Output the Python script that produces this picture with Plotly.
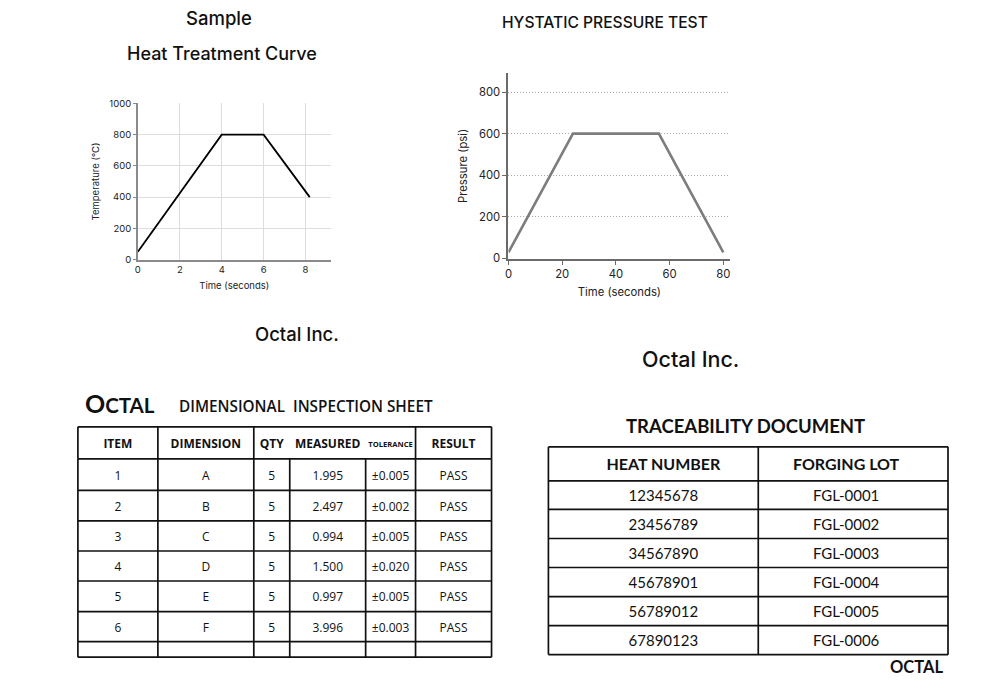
import plotly.graph_objects as go

# ---------------- data ----------------
heat_time = [0, 4, 6, 8.2]
heat_temp = [50, 800, 800, 400]

press_time = [0, 24, 56, 80]
press_psi = [30, 600, 600, 30]

insp_header = ["ITEM", "DIMENSION", "QTY", "MEASURED", "TOLERANCE", "RESULT"]
insp_item = ["1", "2", "3", "4", "5", "6"]
insp_dim = ["A", "B", "C", "D", "E", "F"]
insp_qty = ["5", "5", "5", "5", "5", "5"]
insp_measured = ["1.995", "2.497", "0.994", "1.500", "0.997", "3.996"]
insp_tol = ["±0.005", "±0.002", "±0.005", "±0.020", "±0.005", "±0.003"]
insp_result = ["PASS", "PASS", "PASS", "PASS", "PASS", "PASS"]

trace_header = ["HEAT NUMBER", "FORGING LOT"]
heat_numbers = ["12345678", "23456789", "34567890", "45678901", "56789012", "67890123"]
forging_lots = ["FGL-0001", "FGL-0002", "FGL-0003", "FGL-0004", "FGL-0005", "FGL-0006"]

# ---------------- layout constants (page pixels) ----------------
W, H = 1000, 700
T1_X = [74.2, 154.5, 250.8, 286.9, 363.1, 413.2, 489.5]
T1_Y = [428.8, 461.4, 493.6, 524.7, 555.3, 585.9, 617.0, 647.7, 663.5]
T1_HEADER_V = [0, 1, 2, 5, 6]
T2_X = [546.6, 757.3, 947.8]
T2_Y = [449.2, 483.9, 513.0, 542.6, 572.1, 601.7, 631.3, 660.9]
T2_TEXT_X = [662, 845.5]
T1_TEXT_DY = 2.0
T2_TEXT_DY = 2.5

CHART_FONT = "Inter, Liberation Sans, sans-serif"
T1_FONT = "Open Sans, sans-serif"
T2_FONT = "Lato, Open Sans, sans-serif"

fig = go.Figure()

# ---------------- chart 1 ----------------
fig.add_trace(go.Scatter(x=heat_time, y=heat_temp, mode="lines",
                         line=dict(color="#000000", width=1.8),
                         xaxis="x", yaxis="y", showlegend=False, hoverinfo="skip"))

# ---------------- chart 2 ----------------
fig.add_trace(go.Scatter(x=press_time, y=press_psi, mode="lines",
                         line=dict(color="#7d7d7d", width=2.6),
                         xaxis="x2", yaxis="y2", showlegend=False, hoverinfo="skip"))

# ---------------- tables on page overlay axis ----------------
shapes = []
def hline(x0, x1, y):
    shapes.append(dict(type="line", xref="x3", yref="y3", x0=x0, x1=x1, y0=y, y1=y,
                       line=dict(color="#111111", width=1.7)))
def vline(x, y0, y1):
    shapes.append(dict(type="line", xref="x3", yref="y3", x0=x, x1=x, y0=y0, y1=y1,
                       line=dict(color="#111111", width=1.7)))

for y in T1_Y:
    hline(T1_X[0], T1_X[-1], y)
for i in T1_HEADER_V:
    vline(T1_X[i], T1_Y[0], T1_Y[1])
for x in T1_X:
    vline(x, T1_Y[1], T1_Y[-1])

for y in T2_Y:
    hline(T2_X[0], T2_X[-1], y)
for x in T2_X:
    vline(x, T2_Y[0], T2_Y[-1])

def mids(edges, dy=0.0):
    return [(a + b) / 2 + dy for a, b in zip(edges[:-1], edges[1:])]

t1_cx = mids(T1_X)
t1_cy = mids(T1_Y, T1_TEXT_DY)
t2_cy = mids(T2_Y, T2_TEXT_DY)

# table 1 header
fig.add_trace(go.Scatter(x=t1_cx[:4] + [t1_cx[5]], y=[t1_cy[0]] * 5,
                         text=insp_header[:4] + [insp_header[5]], mode="text",
                         textfont=dict(family=T1_FONT, size=12, color="#111", weight=700),
                         xaxis="x3", yaxis="y3", showlegend=False, hoverinfo="skip"))
fig.add_trace(go.Scatter(x=[t1_cx[4]], y=[t1_cy[0]], text=[insp_header[4]], mode="text",
                         textfont=dict(family=T1_FONT, size=7.6, color="#111", weight=700),
                         xaxis="x3", yaxis="y3", showlegend=False, hoverinfo="skip"))
# table 1 body
cols = [insp_item, insp_dim, insp_qty, insp_measured, insp_tol, insp_result]
bx, by, bt = [], [], []
for ci, col in enumerate(cols):
    for ri, v in enumerate(col):
        bx.append(t1_cx[ci]); by.append(t1_cy[ri + 1]); bt.append(v)
fig.add_trace(go.Scatter(x=bx, y=by, text=bt, mode="text",
                         textfont=dict(family=T1_FONT, size=12, color="#111"),
                         xaxis="x3", yaxis="y3", showlegend=False, hoverinfo="skip"))

# table 2 header
fig.add_trace(go.Scatter(x=T2_TEXT_X, y=[t2_cy[0]] * 2, text=trace_header, mode="text",
                         textfont=dict(family=T2_FONT, size=16, color="#111", weight=700),
                         xaxis="x3", yaxis="y3", showlegend=False, hoverinfo="skip"))
cx2, cy2, ct2 = [], [], []
for ci, col in enumerate([heat_numbers, forging_lots]):
    for ri, v in enumerate(col):
        cx2.append(T2_TEXT_X[ci]); cy2.append(t2_cy[ri + 1]); ct2.append(v)
fig.add_trace(go.Scatter(x=cx2, y=cy2, text=ct2, mode="text",
                         textfont=dict(family=T2_FONT, size=15, color="#111"),
                         xaxis="x3", yaxis="y3", showlegend=False, hoverinfo="skip"))

# ---------------- text annotations ----------------
def ann(text, x, y, size, family=CHART_FONT, weight=400, xanchor="center"):
    return dict(text=text, x=x, y=y, xref="x3", yref="y3", showarrow=False,
                xanchor=xanchor, yanchor="middle",
                font=dict(family=family, size=size, color="#111", weight=weight))

annotations = [
    ann("Sample", 215.7, 12.4, 18.5, weight=500),
    ann("Heat Treatment Curve", 218.7, 48.7, 18, weight=500),
    ann("HYSTATIC PRESSURE TEST", 603.8, 16.5, 15.6, weight=500),
    ann("Octal Inc.", 293.9, 333.9, 18.5, weight=500),
    ann("Octal Inc.", 689.1, 359.4, 21.5, weight=500),
    ann("<span style='font-size:25px'>O</span>CTAL", 79, 404.3, 20.5,
        family="Lato, sans-serif", weight=700, xanchor="left"),
    ann("DIMENSIONAL  INSPECTION SHEET", 302.9, 407.3, 15.3, family=T1_FONT, weight=600),
    ann("TRACEABILITY DOCUMENT", 744.2, 427.8, 18.5, family=T2_FONT, weight=700),
    ann("OCTAL", 944.8, 673.7, 16.5, family=T2_FONT, weight=700, xanchor="right"),
]

axis_common = dict(zeroline=False, fixedrange=True)

fig.update_layout(
    width=W, height=H,
    margin=dict(l=0, r=0, t=0, b=0),
    paper_bgcolor="white", plot_bgcolor="rgba(0,0,0,0)",
    showlegend=False,
    shapes=shapes,
    annotations=annotations,
    xaxis=dict(domain=[134.4 / W, 328 / W], range=[0, 9.2], tickvals=[0, 2, 4, 6, 8],
               showgrid=True, gridcolor="#dddddd", gridwidth=1,
               showline=True, linecolor="#8a8a8a", linewidth=1.5,
               ticks="", tickfont=dict(family=CHART_FONT, size=9.5, color="#222"),
               title=dict(text="Time (seconds)", font=dict(family=CHART_FONT, size=9.5, color="#222"),
                          standoff=9),
               anchor="y", **axis_common),
    yaxis=dict(domain=[1 - 258.4 / H, 1 - 99.2 / H], range=[0, 1000],
               tickvals=[0, 200, 400, 600, 800, 1000],
               showgrid=True, gridcolor="#dddddd", gridwidth=1,
               showline=True, linecolor="#8a8a8a", linewidth=1.5,
               ticks="outside", ticklen=3, tickcolor="#8a8a8a",
               tickfont=dict(family=CHART_FONT, size=9.5, color="#222"),
               title=dict(text="Temperature (°C)", font=dict(family=CHART_FONT, size=9.5, color="#222"),
                          standoff=8),
               anchor="x", **axis_common),
    xaxis2=dict(domain=[506.5 / W, 729.2 / W], range=[0, 82.6], tickvals=[0, 20, 40, 60, 80],
                showgrid=False, showline=True, linecolor="#6a6a6a", linewidth=2,
                ticks="outside", ticklen=4, tickcolor="#6a6a6a",
                tickfont=dict(family=CHART_FONT, size=11.3, color="#222"),
                title=dict(text="Time (seconds)", font=dict(family=CHART_FONT, size=11.3, color="#222"),
                           standoff=8),
                anchor="y2", **axis_common),
    yaxis2=dict(domain=[1 - 257.3 / H, 1 - 68.6 / H], range=[0, 890],
                tickvals=[0, 200, 400, 600, 800],
                showgrid=True, gridcolor="#aaaaaa", gridwidth=1, griddash="1px,2px",
                showline=True, linecolor="#6a6a6a", linewidth=2,
                ticks="outside", ticklen=4, tickcolor="#6a6a6a",
                tickfont=dict(family=CHART_FONT, size=11.3, color="#222"),
                title=dict(text="Pressure (psi)", font=dict(family=CHART_FONT, size=11.3, color="#222"),
                           standoff=9),
                anchor="x2", **axis_common),
    xaxis3=dict(domain=[0, 1], range=[0, W], visible=False, anchor="y3", **axis_common),
    yaxis3=dict(domain=[0, 1], range=[H, 0], visible=False, anchor="x3", **axis_common),
)

fig.write_html("out.html", config={"displayModeBar": False},
               post_script="document.body.style.margin='0px';")
